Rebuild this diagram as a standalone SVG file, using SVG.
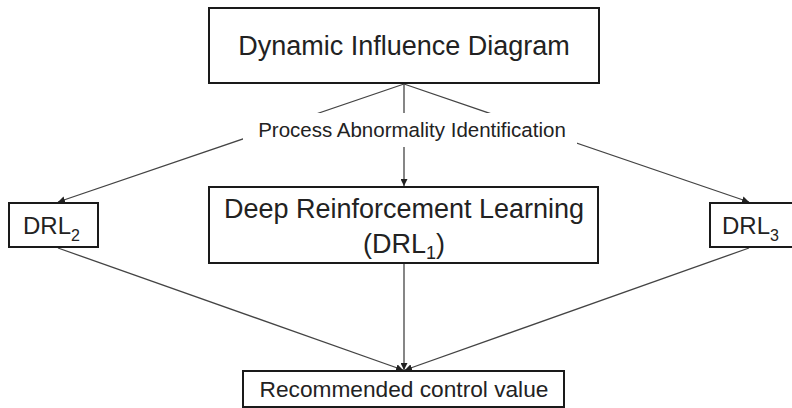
<svg xmlns="http://www.w3.org/2000/svg" width="792" height="408" viewBox="0 0 792 408">
<style>
.box{fill:#fff;stroke:#1a1a1a;stroke-width:2}
.t{font-family:"Liberation Sans",Arial,sans-serif;fill:#222}
.c{fill:none;stroke:#444;stroke-width:1.3}
</style>
<defs>
<marker id="ah" viewBox="0 0 10 10" refX="10" refY="5" markerWidth="7" markerHeight="7" markerUnits="userSpaceOnUse" orient="auto">
<path d="M0,0 L10,5 L0,10 z" fill="#222"/>
</marker>
</defs>
<rect width="792" height="408" fill="#fff"/>
<g id="connectors">
<line class="c" x1="404" y1="84" x2="58" y2="202" marker-end="url(#ah)"/>
<line class="c" x1="404" y1="84" x2="404" y2="186" marker-end="url(#ah)"/>
<line class="c" x1="404" y1="84" x2="749" y2="202" marker-end="url(#ah)"/>
<line class="c" x1="58" y1="248" x2="403" y2="370" marker-end="url(#ah)"/>
<line class="c" x1="404" y1="264" x2="404" y2="370" marker-end="url(#ah)"/>
<line class="c" x1="749" y1="248" x2="405" y2="370" marker-end="url(#ah)"/>
<g id="label-pai">
<rect x="243" y="113" width="334" height="34" fill="#fff"/>
<text class="t" x="412" y="137" font-size="20.5" text-anchor="middle">Process Abnormality Identification</text>
</g>
</g>
<g id="node-did">
<rect class="box" x="209" y="8" width="390" height="75"/>
<text class="t" x="404" y="55" font-size="27" text-anchor="middle">Dynamic Influence Diagram</text>
</g>
<g id="node-drl1">
<rect class="box" x="209" y="187" width="389" height="76"/>
<text class="t" x="404" y="218" font-size="27" text-anchor="middle">Deep Reinforcement Learning</text>
<text class="t" x="404" y="253" font-size="27" text-anchor="middle">(DRL<tspan font-size="18" dy="6">1</tspan><tspan dy="-6">)</tspan></text>
</g>
<g id="node-drl2">
<rect class="box" x="9" y="203" width="89" height="44"/>
<text class="t" x="23" y="234" font-size="24">DRL<tspan font-size="16" dy="7">2</tspan></text>
</g>
<g id="node-drl3">
<rect class="box" x="710" y="203" width="86" height="44"/>
<text class="t" x="722" y="234" font-size="24">DRL<tspan font-size="16" dy="7">3</tspan></text>
</g>
<g id="node-rcv">
<rect class="box" x="243" y="371" width="321" height="36" stroke-width="1.5"/>
<text class="t" x="404" y="397" font-size="22.7" text-anchor="middle">Recommended control value</text>
</g>
</svg>
